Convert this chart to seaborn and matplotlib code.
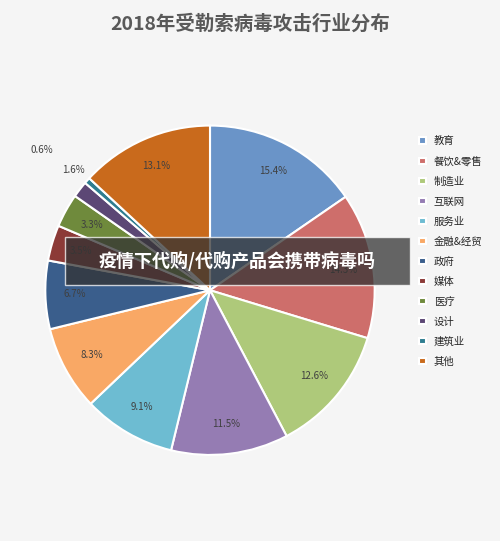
import matplotlib.pyplot as plt
import seaborn as sns

sns.set_theme(style="white")
plt.rcParams['font.family'] = ['Noto Sans CJK SC', 'DejaVu Sans']

industries = ['教育', '餐饮&零售', '制造业', '互联网', '服务业', '金融&经贸',
              '政府', '媒体', '医疗', '设计', '建筑业', '其他']
shares = [15.4, 14.3, 12.6, 11.5, 9.1, 8.3, 6.7, 3.5, 3.3, 1.6, 0.6, 13.1]
colors = ['#6A94C8', '#CE6E6B', '#AEC97A', '#957CB3', '#6DBCD2', '#F9A865',
          '#3A5E8C', '#8C3A37', '#6F8A3C', '#5C4775', '#2E7D90', '#C96A1C']

fig = plt.figure(figsize=(5, 5.41), dpi=100, facecolor='#f5f5f5')
ax = fig.add_axes([0.084, 0.153, 0.672, 0.621])
wedges, texts, autotexts = ax.pie(
    shares, colors=colors, startangle=90, counterclock=False,
    autopct='%1.1f%%', pctdistance=0.82, radius=1.0,
    wedgeprops=dict(edgecolor='white', linewidth=1.5),
    textprops=dict(fontsize=7, color='#404040'))
# small slices: labels outside
autotexts[9].set_position((-0.83, 0.73))
autotexts[10].set_position((-0.95, 0.85))
autotexts[10].set_ha('right')
ax.set_xlim(-1.02, 1.02)
ax.set_ylim(-1.02, 1.02)
ax.set_aspect('equal')

fig.text(0.5, 0.955, '2018年受勒索病毒攻击行业分布', ha='center', va='center',
         fontsize=14, color='#595959', fontweight='bold')
fig.legend(wedges, industries, loc='center left', bbox_to_anchor=(0.82, 0.535),
           frameon=False, fontsize=7.5, handlelength=0.6, handleheight=0.6,
           labelspacing=0.95)

# banner overlay
fig.patches.append(plt.Rectangle((0.13, 0.473), 0.69, 0.089, transform=fig.transFigure,
                                 facecolor='#333333', alpha=0.75, zorder=5))
fig.text(0.475, 0.518, '疫情下代购/代购产品会携带病毒吗', ha='center', va='center',
         fontsize=13, color='white', fontweight='bold', zorder=6)

fig.savefig('out.png', dpi=100, facecolor=fig.get_facecolor())
